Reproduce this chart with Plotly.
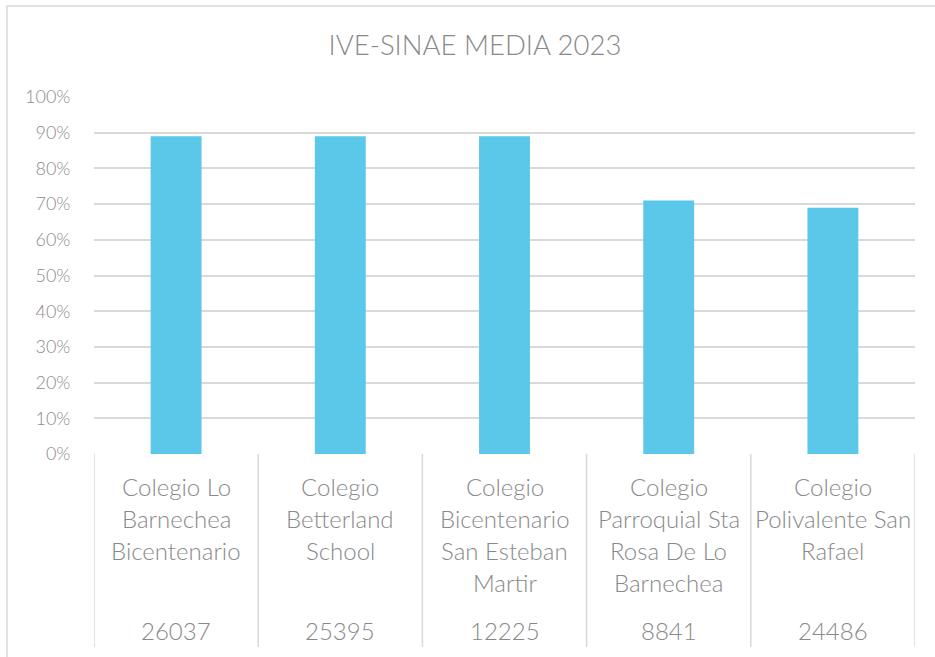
import plotly.graph_objects as go

title = "IVE-SINAE MEDIA 2023"
names = [
    "Colegio Lo<br>Barnechea<br>Bicentenario",
    "Colegio<br>Betterland<br>School",
    "Colegio<br>Bicentenario<br>San Esteban<br>Martir",
    "Colegio<br>Parroquial Sta<br>Rosa De Lo<br>Barnechea",
    "Colegio<br>Polivalente San<br>Rafael",
]
codes = ["26037", "25395", "12225", "8841", "24486"]
values = [0.89, 0.89, 0.89, 0.71, 0.69]
y_ticks = [i / 10 for i in range(11)]

FONT = "Lato"
GRAY = "#898989"
GRID = "#d9d9d9"

xs = list(range(len(values)))
fig = go.Figure(go.Bar(x=xs, y=values, marker=dict(color="#5bc8ea", line=dict(width=0)),
                       width=0.31, hoverinfo="skip"))

shapes = []
# separators between categories below axis
for i in range(len(values) + 1):
    shapes.append(dict(type="line", xref="x", yref="paper", x0=i - 0.5, x1=i - 0.5,
                       y0=0, y1=-0.5406, line=dict(color=GRID, width=1.5)))
# chart border
shapes.append(dict(type="rect", xref="paper", yref="paper", x0=-0.106, x1=1.04,
                   y0=-0.6, y1=1.255, line=dict(color=GRID, width=1.5), layer="below"))

annotations = []
for i, (nm, cd) in enumerate(zip(names, codes)):
    for j, line in enumerate(nm.split("<br>")):
        annotations.append(dict(x=i, y=0, xref="x", yref="paper", text=line, showarrow=False,
                                yshift=-32 * (j + 1), yanchor="middle",
                                font=dict(family=FONT, size=24, color=GRAY, weight=300)))
    annotations.append(dict(x=i, y=0, xref="x", yref="paper", text=cd, showarrow=False,
                            yshift=-176, yanchor="middle",
                            font=dict(family=FONT, size=24, color=GRAY, weight=300)))

fig.update_layout(
    width=935, height=657,
    margin=dict(l=94, r=20, t=97, b=203),
    paper_bgcolor="white", plot_bgcolor="white",
    title=dict(text=title, x=0.508, xanchor="center", y=0.931, yanchor="middle",
               font=dict(family=FONT, size=27.5, color=GRAY, weight=300)),
    xaxis=dict(range=[-0.5, len(values) - 0.5], showticklabels=False, showgrid=False,
               zeroline=False, showline=False, fixedrange=True),
    yaxis=dict(range=[0, 1.0], tickvals=y_ticks, tickformat=".0%", showgrid=True,
               gridcolor=GRID, gridwidth=1.5, zeroline=False, showline=False,
               ticks="outside", ticklen=19, tickcolor="rgba(0,0,0,0)",
               tickfont=dict(family=FONT, size=18, color="#8c8c8c", weight=300), fixedrange=True),
    shapes=shapes, annotations=annotations, showlegend=False, bargap=0.69,
)

fig.write_html("out.html", config={"displayModeBar": False},
               post_script="document.body.style.margin='0';")
